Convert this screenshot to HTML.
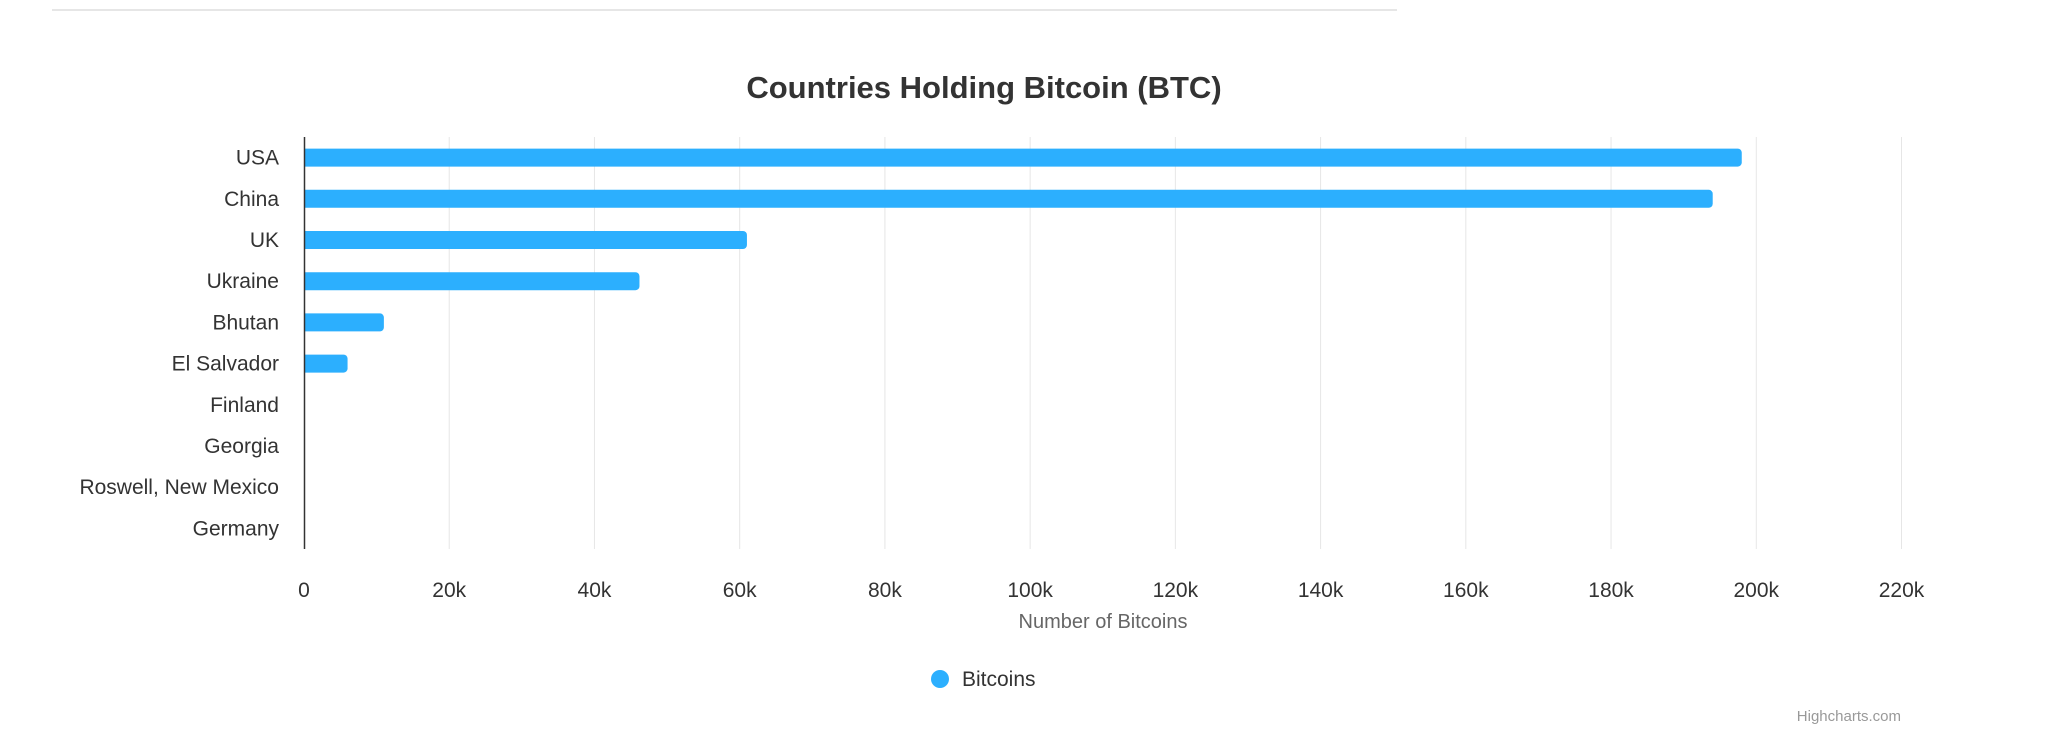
<!DOCTYPE html>
<html><head><meta charset="utf-8"><style>
html,body{margin:0;padding:0;background:#fff;}
svg{display:block;font-family:"Liberation Sans",sans-serif;}
</style></head><body>
<svg id="chart" width="2048" height="740" viewBox="0 0 2048 740">
<line x1="52" y1="10" x2="1397" y2="10" stroke="#e6e6e6" stroke-width="2"/>
<text x="984" y="98" text-anchor="middle" font-size="31" font-weight="bold" fill="#333">Countries Holding Bitcoin (BTC)</text>
<g id="grid"></g><g id="bars"></g><g id="ylabels"></g><g id="xlabels"></g>
<line x1="304.5" y1="137" x2="304.5" y2="549" stroke="#333" stroke-width="1.5"/>
<text x="1103" y="628" text-anchor="middle" font-size="20" fill="#666">Number of Bitcoins</text>
<g>
<circle cx="940" cy="679" r="9" fill="#2caffe"/>
<text x="962" y="686" font-size="21" fill="#333">Bitcoins</text>
</g>
<text x="1901" y="721" text-anchor="end" font-size="15" fill="#999">Highcharts.com</text>
</svg>
<script>
const categories=["USA","China","UK","Ukraine","Bhutan","El Salvador","Finland","Georgia","Roswell, New Mexico","Germany"];
const values=[198000,194000,61000,46200,11000,6000,0,0,0,0];
const ticks=[0,20000,40000,60000,80000,100000,120000,140000,160000,180000,200000,220000];
const tickLabels=["0","20k","40k","60k","80k","100k","120k","140k","160k","180k","200k","220k"];
const NS="http://www.w3.org/2000/svg";
const px0=304,px1=1901.5,xmax=220000,plotTop=137,plotBottom=549;
const xs=v=>px0+(px1-px0)*v/xmax;
const band=(plotBottom-plotTop)/categories.length;
const yc=i=>plotTop+band*(i+0.5);
function mk(t,a,p){const e=document.createElementNS(NS,t);for(const k in a)e.setAttribute(k,a[k]);p.appendChild(e);return e;}
const g=document.getElementById('grid'),b=document.getElementById('bars'),yl=document.getElementById('ylabels'),xl=document.getElementById('xlabels');
ticks.forEach((t,i)=>{
 if(i>0){const l=mk('line',{x1:xs(t),x2:xs(t),y1:plotTop,y2:plotBottom,stroke:'#e6e6e6','stroke-width':1},g);
 
 }
 const tx=mk('text',{x:xs(t),y:597,'text-anchor':'middle','font-size':21,fill:'#333'},xl);
 tx.textContent=tickLabels[i];
 
 
});
categories.forEach((c,i)=>{
 const tx=mk('text',{x:279,y:yc(i)+7,'text-anchor':'end','font-size':21,fill:'#333'},yl);
 tx.textContent=c;
 
 
 if(values[i]>0){
  const w=xs(values[i])-px0;
  const r=mk('path',{d:`M${px0},${yc(i)-9}h${w-4}a4,4 0 0 1 4,4v10a4,4 0 0 1 -4,4h${-(w-4)}z`,fill:'#2caffe'},b);
  
  
 }
});
</script>
</body></html>
